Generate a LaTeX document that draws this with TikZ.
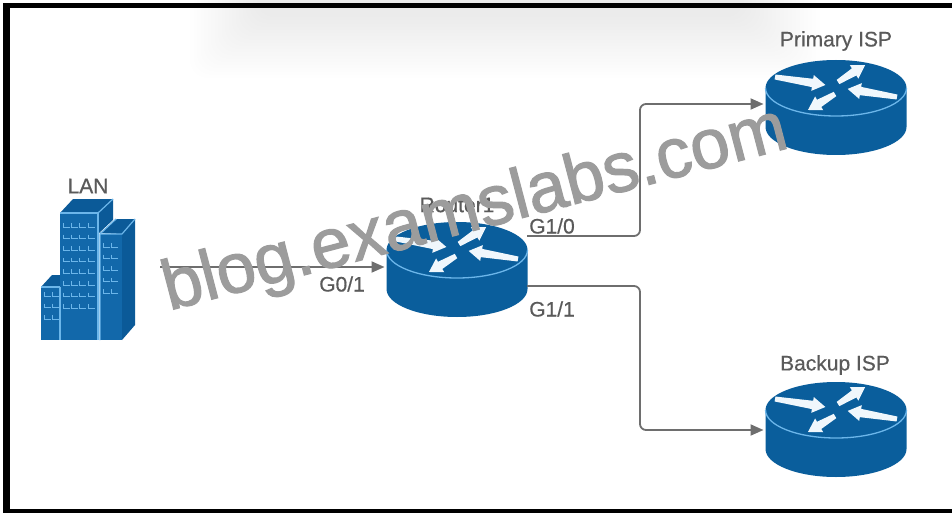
\documentclass[tikz,border=0pt]{standalone}
\usepackage{fontspec}
\setmainfont{Liberation Sans}
\newfontfamily\wmfont[FakeBold=1.6]{Liberation Sans}
\newfontfamily\lblfont[FakeBold=0.5]{Liberation Sans}
\usetikzlibrary{arrows.meta}
\definecolor{rblue}{HTML}{0A5E9C}
\definecolor{bfront}{HTML}{1268AA}
\definecolor{bdark}{HTML}{0B5A98}
\definecolor{lblue}{HTML}{6CB6EA}
\definecolor{wire}{HTML}{6E6E6E}
\definecolor{txt}{HTML}{5A5A5A}
\definecolor{wmark}{HTML}{9C9C9C}
\definecolor{rwhite}{HTML}{F0F7FC}
\tikzset{
  lbl/.style={text=txt,font=\lblfont\fontsize{21}{25}\selectfont,inner sep=0pt},
  anchorbox/.style={inner sep=0pt,outer sep=2pt,minimum width=141pt,minimum height=94pt},
  wirepath/.style={draw=wire,line width=1.8pt,rounded corners=6pt,-{Triangle[length=13pt,width=11pt]}},
  winmark/.style={draw=lblue,line width=1pt},
  bedge/.style={draw=lblue,line width=1.2pt,line join=round},
}
\newcommand{\rarr}[4]{% tail x, tail y, length, canvas angle
  \begin{scope}[shift={(#1,#2)},rotate=#4]
    \fill[rwhite] (0,2.5) -- ({#3-13},4.2) -- ({#3-13},8) -- (#3,0) -- ({#3-13},-8) -- ({#3-13},-4.2) -- (0,-2.5) -- cycle;
  \end{scope}%
}
\newcommand{\routerdraw}[2]{%
  \begin{scope}[shift={(#1,#2)}]
    \fill[rblue] (-70.5,0) -- (-70.5,39) arc[start angle=180,end angle=0,x radius=70.5,y radius=28] -- (70.5,0) arc[start angle=0,end angle=-180,x radius=70.5,y radius=28] -- cycle;
    \draw[lblue,line width=1.3pt] (-70.5,0) arc[start angle=180,end angle=0,x radius=70.5,y radius=28];
    \rarr{-61}{-11}{51}{-9}
    \rarr{2}{-6}{32}{32}
    \rarr{61}{9}{50}{170.7}
    \rarr{-1}{6}{31.4}{210.6}
  \end{scope}%
}
\newcommand{\winrows}[4]{% x0, y0, cols, rows
  \foreach \i in {1,...,#3}{\foreach \j in {1,...,#4}{
    \draw[winmark] ({#1+(\i-1)*8.2},{#2+(\j-1)*11.6}) -- ++(0,4) -- ++(6.5,0);
  }}%
}
\begin{document}
\begin{tikzpicture}[x=1pt,y=-1pt]
\useasboundingbox (0,0) rectangle (952,513);
\fill[white] (0,0) rectangle (952,513);
% soft shadow under the top edge
\foreach \k in {0,...,19}{
  \fill[black,opacity=0.0055,rounded corners=18pt] ({190+3.5*\k},-30) rectangle ({820-4*\k},{78-3.2*\k});
}
% frame
\fill[black] (3,3) rectangle (952,8);
\fill[black] (3,3) rectangle (10,513);
\fill[black] (3,509) rectangle (952,513);
% building
\fill[bdark] (41,287) -- (52,275) -- (60,275) -- (60,287) -- cycle;
\fill[bfront] (41,287) rectangle (60,340);
\fill[bdark] (60,213) -- (73,199) -- (113,199) -- (113,220) -- (98,234) -- (98,213) -- cycle;
\fill[bfront] (60,213) rectangle (98,340);
\fill[bdark] (100,233) -- (117,219) -- (135,219) -- (135,325) -- (122,340) -- (122,234) -- cycle;
\fill[bfront] (100,234) rectangle (122,340);
\draw[bedge] (60,287) -- (60,340);
\draw[bedge] (60,213) -- (98,213) -- (98,340);
\draw[bedge] (98,213) -- (113,199);
\draw[bedge] (100,340) -- (100,234) -- (122,234) -- (135,219);
\draw[bedge] (100,234) -- (116,219);
\draw[bedge] (41,287) -- (60,287);
\winrows{63.5}{223}{4}{8}
\winrows{103}{243}{2}{5}
\winrows{44}{292}{2}{3}
% routers
\routerdraw{457}{250}
\routerdraw{836}{88}
\routerdraw{836}{410}
% named anchors
\node[anchorbox] (lan) at (88,270) {};
\node[anchorbox] (r1) at (457,267) {};
\node[anchorbox] (isp1) at (836,104) {};
\node[anchorbox] (isp2) at (836,430) {};
\coordinate (lanport) at (160,267);
\coordinate (p10) at (527,236);
\coordinate (p11) at (527,286);
% connectors
\draw[wirepath] (lanport) -- (r1.west);
\draw[wirepath] (p10) -- (640,236) -- (640,104) -- (isp1.west);
\draw[wirepath] (p11) -- (640,286) -- (640,430) -- (isp2.west);
% labels
\node[lbl] (tlan) at (88,186) {LAN};
\node[lbl] (tr1) at (457,205) {Router1};
\node[lbl] (tisp1) at (836,41) {Primary ISP};
\node[lbl] (tisp2) at (835,365) {Backup ISP};
\node[lbl] (g01) at (342,284) {G0/1};
\node[lbl] (g10) at (552,226) {G1/0};
\node[lbl] (g11) at (552,309) {G1/1};
% watermark
\node[anchor=base,rotate=14.7,text=wmark,inner sep=0pt,font=\wmfont\fontsize{70.5}{80}\selectfont] (wm) at (480,229) {blog.examslabs.com};
\end{tikzpicture}
\end{document}
